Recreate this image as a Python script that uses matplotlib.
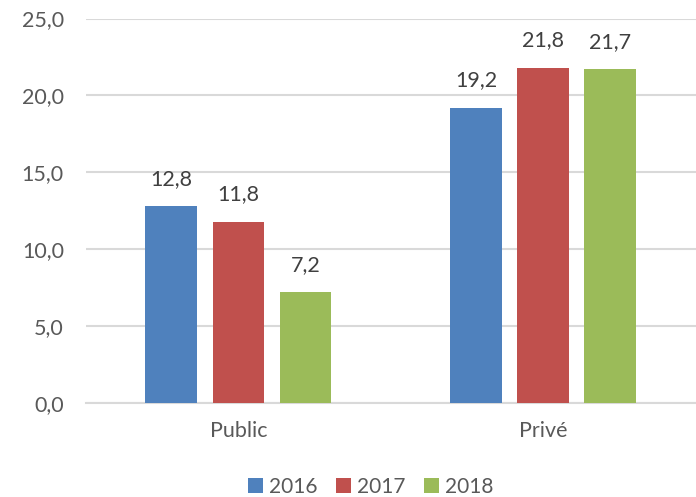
import numpy as np
import matplotlib.pyplot as plt

plt.rcParams['font.family'] = ['Lato', 'DejaVu Sans']

# donnees
categories = ["Public", "Privé"]
years = ["2016", "2017", "2018"]
val_2016 = [12.8, 19.2]
val_2017 = [11.8, 21.8]
val_2018 = [7.2, 21.7]
colors = ["#4F81BD", "#C0504D", "#9BBB59"]

fig = plt.figure(figsize=(6.96, 4.97), dpi=100)
ax = fig.add_axes([0.1236, 0.189, 0.876, 0.7737])

x = np.arange(len(categories))
width = 0.17
step = 0.22

for i, (vals, lab) in enumerate(zip([val_2016, val_2017, val_2018], years)):
    pos = x + (i - 1) * step
    bars = ax.bar(pos, vals, width, color=colors[i], label=lab, zorder=3)
    for b, v in zip(bars, vals):
        ax.annotate(f"{v:.1f}".replace(".", ","),
                    (b.get_x() + b.get_width() / 2, v),
                    xytext=(0, 12.5), textcoords="offset points",
                    ha="center", va="bottom", fontsize=15.5, color="#404040")

ax.set_xlim(-0.5, 1.5)
ax.set_ylim(0, 25)
ax.set_yticks(np.arange(0, 26, 5))
ax.set_yticklabels([f"{t:.1f}".replace(".", ",") for t in np.arange(0, 26, 5)])
ax.set_xticks(x)
ax.set_xticklabels(categories)
ax.yaxis.grid(True, color="#D9D9D9", linewidth=1.5, zorder=0)
for s in ["top", "right", "left"]:
    ax.spines[s].set_visible(False)
ax.spines["bottom"].set_color("#D9D9D9")
ax.spines["bottom"].set_linewidth(1.5)
ax.tick_params(axis="y", length=0, pad=16, labelsize=15.5, labelcolor="#595959")
ax.tick_params(axis="x", length=0, pad=13, labelsize=15.5, labelcolor="#595959")

ax.legend(loc="center", bbox_to_anchor=(0.467, -0.218), ncol=3, frameon=False,
          fontsize=15, handlelength=0.7, handleheight=0.7, handletextpad=0.3,
          columnspacing=0.9, labelcolor="#595959")

plt.savefig("out.png", dpi=100)
